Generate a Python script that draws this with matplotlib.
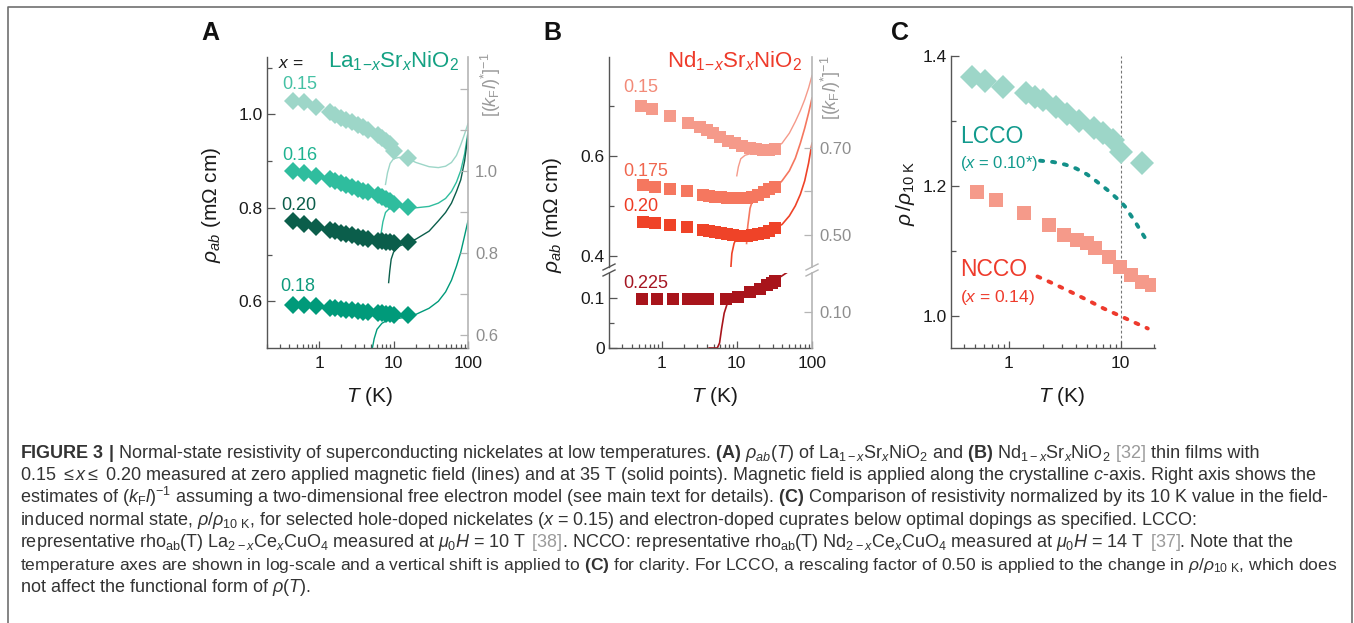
import matplotlib
matplotlib.use('Agg')
import matplotlib.pyplot as plt
from matplotlib.lines import Line2D
from matplotlib.ticker import FuncFormatter, NullFormatter

plt.rcParams['font.family'] = ['Liberation Sans', 'DejaVu Sans']
plt.rcParams['mathtext.fontset'] = 'custom'
plt.rcParams['mathtext.rm'] = 'Liberation Sans'
plt.rcParams['mathtext.it'] = 'Liberation Sans:italic'
plt.rcParams['mathtext.bf'] = 'Liberation Sans:bold'

# ---------------- panel A: La(1-x)Sr(x)NiO2 ----------------
A_T_pts = [0.45, 0.62, 0.9, 1.4, 1.65, 1.95, 2.3, 2.8, 3.3, 3.9, 4.6, 6.2, 7.0, 8.0, 9.0, 10.3, 15.5]
A_015_pts = [1.029, 1.027, 1.015, 1.004, 0.998, 0.993, 0.988, 0.983, 0.977, 0.972, 0.966, 0.956, 0.950, 0.943, 0.936, 0.922, 0.906]
A_016_pts = [0.879, 0.874, 0.869, 0.861, 0.857, 0.853, 0.849, 0.845, 0.841, 0.837, 0.833, 0.828, 0.823, 0.818, 0.814, 0.809, 0.802]
A_020_pts = [0.771, 0.766, 0.758, 0.752, 0.750, 0.747, 0.744, 0.741, 0.738, 0.735, 0.733, 0.730, 0.729, 0.727, 0.726, 0.725, 0.726]
A_018_pts = [0.591, 0.591, 0.589, 0.586, 0.585, 0.584, 0.582, 0.581, 0.579, 0.578, 0.576, 0.575, 0.574, 0.573, 0.572, 0.571, 0.570]

A_015_T = [7.8, 8.3, 9.0, 10, 12, 15, 20, 30, 40, 50, 60, 70, 80, 90, 100]
A_015_line = [0.85, 0.875, 0.895, 0.905, 0.908, 0.906, 0.897, 0.888, 0.886, 0.889, 0.897, 0.912, 0.935, 0.958, 0.98]
A_016_T = [6.8, 7.2, 7.8, 9, 11, 15, 20, 30, 40, 50, 60, 70, 80, 90, 100]
A_016_line = [0.745, 0.77, 0.79, 0.80, 0.803, 0.801, 0.800, 0.803, 0.81, 0.82, 0.835, 0.855, 0.88, 0.915, 0.962]
A_020_T = [8.6, 8.9, 9.3, 10, 12, 15, 20, 30, 40, 50, 60, 70, 80, 90, 100]
A_020_line = [0.64, 0.665, 0.69, 0.705, 0.718, 0.725, 0.733, 0.75, 0.772, 0.79, 0.81, 0.835, 0.86, 0.90, 0.955]
A_018_T = [5.2, 5.5, 6, 7, 8, 10, 15, 20, 30, 40, 50, 60, 70, 80, 90, 100]
A_018_line = [0.50, 0.52, 0.54, 0.553, 0.558, 0.562, 0.566, 0.572, 0.585, 0.60, 0.62, 0.645, 0.675, 0.705, 0.74, 0.772]

# ---------------- panel B: Nd(1-x)Sr(x)NiO2 ----------------
B_015_T = [0.53, 0.75, 1.29, 2.27, 3.25, 3.98, 4.9, 6.0, 7.7, 9.5, 11.6, 15, 18, 22, 27, 32]
B_015_pts = [0.699, 0.693, 0.679, 0.666, 0.658, 0.651, 0.645, 0.638, 0.630, 0.625, 0.619, 0.616, 0.613, 0.611, 0.611, 0.614]
B_T_pts = [0.57, 0.83, 1.3, 2.2, 3.6, 4.3, 5.2, 6.2, 7.5, 9, 11, 13.5, 16, 19, 23, 27, 32]
B_0175_pts = [0.541, 0.537, 0.533, 0.529, 0.521, 0.519, 0.518, 0.517, 0.516, 0.515, 0.515, 0.516, 0.518, 0.522, 0.527, 0.533, 0.538]
B_020_pts = [0.468, 0.465, 0.461, 0.457, 0.451, 0.449, 0.447, 0.445, 0.443, 0.441, 0.440, 0.440, 0.441, 0.443, 0.446, 0.450, 0.455]
B_0225_T = [0.55, 0.86, 1.43, 2.24, 3.2, 4.2, 7.2, 10.3, 15.2, 20.5, 25, 29, 32]
B_0225_pts = [0.098, 0.098, 0.098, 0.098, 0.098, 0.098, 0.099, 0.103, 0.112, 0.119, 0.126, 0.131, 0.134]

B_015_lT = [10, 10.5, 11.3, 12.9, 16, 20, 25, 32, 40, 50, 60, 70, 80, 90, 100]
B_015_line = [0.56, 0.578, 0.594, 0.601, 0.605, 0.607, 0.61, 0.614, 0.625, 0.645, 0.668, 0.69, 0.712, 0.735, 0.76]
B_0175_lT = [13.5, 14, 15, 16.5, 20, 25, 32, 40, 50, 60, 70, 80, 90, 100]
B_0175_line = [0.425, 0.46, 0.495, 0.515, 0.522, 0.528, 0.535, 0.55, 0.57, 0.595, 0.625, 0.655, 0.685, 0.715]
B_020_lT = [8.3, 8.6, 9.2, 10, 11, 13, 16, 20, 25, 32, 40, 50, 60, 70, 80, 90, 100]
B_020_line = [0.372, 0.405, 0.425, 0.437, 0.443, 0.443, 0.443, 0.445, 0.449, 0.455, 0.463, 0.48, 0.50, 0.523, 0.55, 0.585, 0.625]
B_0225_lT = [4.3, 5.5, 5.9, 6.3, 6.8, 7.5, 9, 12, 16, 20, 25, 30, 40, 48]
B_0225_line = [0.0, 0.0, 0.01, 0.04, 0.07, 0.09, 0.097, 0.102, 0.11, 0.118, 0.126, 0.133, 0.145, 0.153]

# ---------------- panel C: normalised resistivity ----------------
C_lsno_T = [0.463, 0.61, 0.89, 1.41, 1.71, 2.03, 2.63, 3.28, 4.26, 5.8, 6.9, 8.6, 10.0, 15.4]
C_lsno = [1.367, 1.362, 1.352, 1.343, 1.337, 1.332, 1.321, 1.311, 1.300, 1.289, 1.281, 1.271, 1.253, 1.235]
C_nsno_T = [0.513, 0.765, 1.36, 2.28, 3.13, 4.03, 4.96, 5.88, 7.9, 9.8, 12.3, 15.4, 18.9]
C_nsno = [1.191, 1.179, 1.158, 1.140, 1.125, 1.117, 1.112, 1.104, 1.091, 1.076, 1.064, 1.053, 1.048]
C_lcco_T = [1.9, 2.5, 3.2, 4, 5, 6, 7, 8, 9, 10, 11, 12, 13.5, 15, 17]
C_lcco = [1.239, 1.237, 1.233, 1.227, 1.218, 1.208, 1.199, 1.191, 1.183, 1.176, 1.168, 1.158, 1.145, 1.132, 1.117]
C_ncco_T = [1.8, 2.5, 3.5, 5, 7, 10, 13, 17.5]
C_ncco = [1.061, 1.050, 1.038, 1.025, 1.012, 1.000, 0.991, 0.981]

W, H = 1354, 623
fig = plt.figure(figsize=(W / 100, H / 100), dpi=100)

SPINE = '#555555'
GRAYAX = '#b5b5b5'
GRAYTXT = '#8e8e8e'
TXT = '#1a1a1a'


def add_ax(l, t, r, b):
    return fig.add_axes([l / W, 1 - b / H, (r - l) / W, (b - t) / H])


def base_style(ax, xlim):
    ax.set_xscale('log')
    ax.set_xlim(*xlim)
    ax.patch.set_alpha(0)
    for s in ('top', 'right'):
        ax.spines[s].set_visible(False)
    for s in ('left', 'bottom'):
        ax.spines[s].set_color(SPINE)
        ax.spines[s].set_linewidth(1.0)
    ax.tick_params(which='both', direction='in', color=SPINE, labelcolor=TXT,
                   labelsize=12.5, width=0.9)
    ax.tick_params(axis='y', which='major', length=6, pad=3)
    ax.tick_params(axis='y', which='minor', length=3.5)
    ax.tick_params(axis='x', which='major', length=5, pad=6)
    ax.tick_params(axis='x', which='minor', length=3)
    ax.xaxis.set_major_formatter(FuncFormatter(lambda v, p: f'{v:g}'))
    ax.xaxis.set_minor_formatter(NullFormatter())


def right_axis(ax, ylim, major, labels, minor):
    tw = ax.twinx()
    tw.set_ylim(*ylim)
    for s in ('top', 'left', 'bottom'):
        tw.spines[s].set_visible(False)
    tw.spines['right'].set_color(GRAYAX)
    tw.spines['right'].set_linewidth(1.2)
    tw.set_yticks(major, labels)
    tw.set_yticks(minor, minor=True)
    tw.tick_params(which='both', direction='in', color=GRAYAX, labelcolor=GRAYTXT,
                   labelsize=12, pad=5, width=0.9)
    tw.tick_params(which='major', length=6)
    tw.tick_params(which='minor', length=6)
    return tw


# ---------------- A ----------------
axA = add_ax(267, 57, 468, 348)
base_style(axA, (0.2, 100))
axA.set_ylim(0.5, 1.1227)
axA.set_yticks([0.6, 0.8, 1.0], ['0.6', '0.8', '1.0'])
axA.set_yticks([0.7, 0.9, 1.1], minor=True)

cA = {'0.15': '#9dd6c8', '0.16': '#2fbd9e', '0.20': '#0b5e4b', '0.18': '#009a7a'}
axA.plot(A_015_T, A_015_line, color=cA['0.15'], lw=1.0, zorder=2)
axA.plot(A_016_T, A_016_line, color=cA['0.16'], lw=1.0, zorder=2)
axA.plot(A_020_T, A_020_line, color=cA['0.20'], lw=1.0, zorder=2)
axA.plot(A_018_T, A_018_line, color=cA['0.18'], lw=1.0, zorder=2)
for vals, key in ((A_015_pts, '0.15'), (A_016_pts, '0.16'), (A_020_pts, '0.20'), (A_018_pts, '0.18')):
    axA.plot(A_T_pts, vals, 'D', ms=9.5, color=cA[key], mew=0, zorder=3)

right_axis(axA, (0.568, 1.278), [0.6, 0.8, 1.0], ['0.6', '0.8', '1.0'], [0.7, 0.9, 1.1, 1.2])

axA.text(0.283, 1.109, r'$x$ =', fontsize=12.5, color=TXT, va='center')
axA.text(10.0, 1.113, r'La$_{1\!-\!x}$Sr$_{x}$NiO$_{2}$', fontsize=16, color='#14a183',
         ha='center', va='center')
axA.text(0.32, 1.063, '0.15', fontsize=13, color='#45c1a4', va='center')
axA.text(0.32, 0.911, '0.16', fontsize=13, color='#1fb391', va='center')
axA.text(0.31, 0.806, '0.20', fontsize=13, color='#0b5e4b', va='center')
axA.text(0.30, 0.631, '0.18', fontsize=13, color='#0d9a7c', va='center')

# ---------------- B (broken axis) ----------------
axBu = add_ax(609, 57, 812, 267)
axBl = add_ax(609, 273, 812, 348)
base_style(axBu, (0.2, 100))
base_style(axBl, (0.2, 100))
axBu.spines['bottom'].set_visible(False)
axBu.tick_params(axis='x', which='both', bottom=False, labelbottom=False)
axBu.set_ylim(0.378, 0.797)
axBu.set_yticks([0.4, 0.6], ['0.4', '0.6'])
axBu.set_yticks([0.5, 0.7], minor=True)
axBl.set_ylim(0.0, 0.1506)
axBl.set_yticks([0.0, 0.1], ['0', '0.1'])
axBl.set_yticks([0.05], minor=True)

cB = {'0.15': '#f59a8a', '0.175': '#f5775f', '0.20': '#ef4328', '0.225': '#a8141b'}
axBu.plot(B_015_lT, B_015_line, color=cB['0.15'], lw=1.0, zorder=2)
axBu.plot(B_0175_lT, B_0175_line, color=cB['0.175'], lw=1.2, zorder=2)
axBu.plot(B_020_lT, B_020_line, color=cB['0.20'], lw=1.2, zorder=2)
axBl.plot(B_0225_lT, B_0225_line, color=cB['0.225'], lw=1.2, zorder=2)
axBu.plot(B_015_T, B_015_pts, 's', ms=8, color=cB['0.15'], mew=0, zorder=3)
axBu.plot(B_T_pts, B_0175_pts, 's', ms=8, color=cB['0.175'], mew=0, zorder=3)
axBu.plot(B_T_pts, B_020_pts, 's', ms=8, color=cB['0.20'], mew=0, zorder=3)
axBl.plot(B_0225_T, B_0225_pts, 's', ms=8, color=cB['0.225'], mew=0, zorder=3)

right_axis(axBu, (0.426, 0.909), [0.5, 0.7], ['0.50', '0.70'], [0.6])
right_axis(axBl, (0.017, 0.19), [0.1], ['0.10'], [])

axBu.text(9.3, 0.789, r'Nd$_{1\!-\!x}$Sr$_{x}$NiO$_{2}$', fontsize=16, color='#ee3a2a',
          ha='center', va='center')
axBu.text(0.31, 0.736, '0.15', fontsize=13, color='#f28a78', va='center')
axBu.text(0.31, 0.569, '0.175', fontsize=13, color='#f0664e', va='center')
axBu.text(0.31, 0.499, '0.20', fontsize=13, color='#ee3b24', va='center')
axBl.text(0.31, 0.13, '0.225', fontsize=13, color='#a51622', va='center')


def break_mark(xp, yp, color):
    fig.add_artist(Line2D([(xp - 6) / W, (xp + 6) / W], [1 - (yp + 3) / H, 1 - (yp - 3) / H],
                          transform=fig.transFigure, color=color, lw=1.0))


for yp in (273, 267):
    break_mark(609, yp, SPINE)
    break_mark(812, yp, GRAYAX)

# ---------------- C ----------------
axC = add_ax(951, 56, 1155, 348)
base_style(axC, (0.303, 20.3))
axC.set_ylim(0.951, 1.4)
axC.set_yticks([1.0, 1.2, 1.4], ['1.0', '1.2', '1.4'])
axC.set_yticks([1.1, 1.3], minor=True)
axC.axvline(10, color='#777777', lw=0.8, ls=(0, (2.5, 2)), zorder=1)
axC.plot(C_lsno_T, C_lsno, 'D', ms=12, color='#9dd6c8', mew=0, zorder=3)
axC.plot(C_nsno_T, C_nsno, 's', ms=9.6, color='#f59a8a', mew=0, zorder=3)
axC.plot(C_lcco_T, C_lcco, color='#139089', lw=2.8, ls=(0, (0.8, 2.3)),
         dash_capstyle='round', zorder=2)
axC.plot(C_ncco_T, C_ncco, color='#ee3a2d', lw=2.8, ls=(0, (0.8, 2.3)),
         dash_capstyle='round', zorder=2)
axC.text(0.364, 1.276, 'LCCO', fontsize=16.5, color='#129a8d', va='center')
axC.text(0.364, 1.235, r'($x$ = 0.10*)', fontsize=12, color='#129a8d', va='center')
axC.text(0.364, 1.072, 'NCCO', fontsize=16.5, color='#ee3b2c', va='center')
axC.text(0.364, 1.029, r'($x$ = 0.14)', fontsize=12.5, color='#ee3b2c', va='center')

# ---------------- shared labels ----------------
for xc in (370, 715, 1062):
    fig.text(xc / W, 1 - 397 / H, r'$T$ (K)', fontsize=15, color=TXT, ha='center', va='center')
fig.text(212 / W, 1 - 205 / H, r'$\rho_{ab}$ (mΩ cm)', fontsize=15, color=TXT,
         rotation=90, ha='center', va='center')
fig.text(552 / W, 1 - 215 / H, r'$\rho_{ab}$ (mΩ cm)', fontsize=15, color=TXT,
         rotation=90, ha='center', va='center')
fig.text(906 / W, 1 - 193 / H, r'$\rho\,/\rho_{10\ \mathrm{K}}$', fontsize=15, color=TXT,
         rotation=90, ha='center', va='center')
for xc, yc in ((491, 85), (831, 88)):
    fig.text(xc / W, 1 - yc / H, r'$[(k_{\mathrm{F}}l)^{*}]^{-1}$', fontsize=13, color='#9a9a9a',
             rotation=90, ha='center', va='center')
for lab, xc in (('A', 210), ('B', 552), ('C', 900)):
    fig.text(xc / W, 1 - 33 / H, lab, fontsize=18, fontweight='bold', color='#111111',
             ha='center', va='center')

# ---------------- caption ----------------
# segments: (text, colour key, space before)
cap_lines = [
    [(r'$\mathbf{FIGURE\ 3\ |}$ Normal-state resistivity of superconducting nickelates at low temperatures. '
      r'$\mathbf{(A)}$ $\rho_{ab}$($T$) of La$_{1-x}$Sr$_x$NiO$_2$ and $\mathbf{(B)}$ Nd$_{1-x}$Sr$_x$NiO$_2$', 'k', False),
     (r'$[32]$', 'g', True), ('thin films with', 'k', True)],
    [(r'0.15 $\leq x \leq$ 0.20 measured at zero applied magnetic field (lines) and at 35 T (solid points). '
      r'Magnetic field is applied along the crystalline $c$-axis. Right axis shows the', 'k', False)],
    [(r'estimates of $(k_{\mathrm{F}}l)^{-1}$ assuming a two-dimensional free electron model (see main text for details). '
      r'$\mathbf{(C)}$ Comparison of resistivity normalized by its 10 K value in the field-', 'k', False)],
    [(r'induced normal state, $\rho/\rho_{10\ \mathrm{K}}$, for selected hole-doped nickelates ($x$ = 0.15) and '
      r'electron-doped cuprates below optimal dopings as specified. LCCO:', 'k', False)],
    [(r'representative rho$_{\mathrm{ab}}$(T) La$_{2-x}$Ce$_x$CuO$_4$ measured at $\mu_0H$ = 10 T', 'k', False),
     (r'$[38]$', 'g', True),
     (r'. NCCO: representative rho$_{\mathrm{ab}}$(T) Nd$_{2-x}$Ce$_x$CuO$_4$ measured at $\mu_0H$ = 14 T', 'k', False),
     (r'$[37]$', 'g', True), ('. Note that the', 'k', False)],
    [(r'temperature axes are shown in log-scale and a vertical shift is applied to $\mathbf{(C)}$ for clarity. '
      r'For LCCO, a rescaling factor of 0.50 is applied to the change in $\rho/\rho_{10\ \mathrm{K}}$, which does', 'k', False)],
    [(r'not affect the functional form of $\rho$($T$).', 'k', False)],
]
cap_colors = {'k': '#333333', 'g': '#9a9a9a'}
CAP_SIZE = 13.0
X0, XMAX = 20, 1330
renderer = fig.canvas.get_renderer()


def draw_line(segs, yb, size):
    texts = []
    x = X0
    for s, c, sp in segs:
        if sp:
            x += 0.278 * size * 100 / 72
        t = fig.text(x / W, yb, s, fontsize=size, color=cap_colors[c], ha='left', va='baseline')
        texts.append(t)
        x = t.get_window_extent(renderer=renderer).x1
    return texts, x


for i, segs in enumerate(cap_lines):
    yb = 1 - (458 + 22.33 * i) / H
    texts, xend = draw_line(segs, yb, CAP_SIZE)
    if xend > XMAX:
        for t in texts:
            t.remove()
        draw_line(segs, yb, CAP_SIZE * (XMAX - X0) / (xend - X0))

# frame around the figure
fig.add_artist(Line2D([8 / W, 8 / W, 1352 / W, 1352 / W], [0, 1 - 7 / H, 1 - 7 / H, 0],
                      transform=fig.transFigure, color='#707070', lw=1.2))

fig.savefig('out.png', dpi=100)
